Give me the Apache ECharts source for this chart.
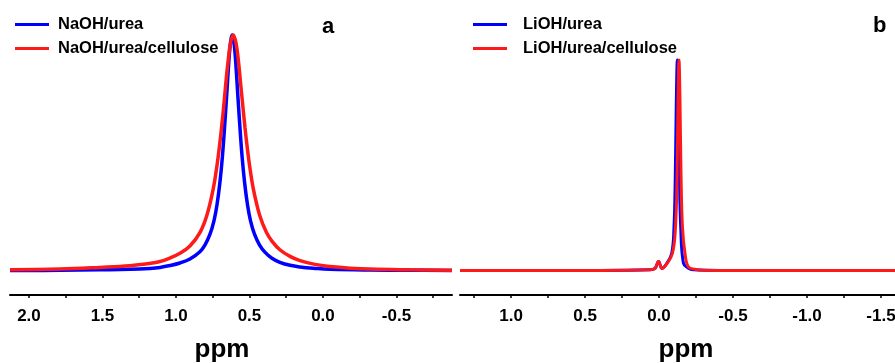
<!DOCTYPE html>
<html>
<head>
<meta charset="utf-8">
<script src="https://cdn.jsdelivr.net/npm/echarts@6/dist/echarts.min.js"></script>
<style>
  html, body { margin: 0; padding: 0; background: #fff; }
  #chart { width: 895px; height: 363px; }
</style>
</head>
<body>
<div id="chart"></div>
<script>
// panel a: NaOH/urea (ppm, relative intensity)
const naohPpm = [2.129, 1.789, 1.517, 1.313, 1.177, 1.109, 1.041, 0.973, 0.905, 0.837,
  0.803, 0.769, 0.741, 0.721, 0.701, 0.684, 0.667, 0.653, 0.643, 0.633,
  0.624, 0.617, 0.610, 0.601, 0.591, 0.581, 0.567, 0.550, 0.533, 0.513,
  0.493, 0.465, 0.431, 0.395, 0.347, 0.293, 0.224, 0.156, 0.054, -0.048,
  -0.320, -0.592, -0.878]
const naohInt = [0, 0.1, 0.3, 0.5, 0.9, 1.3, 2.1, 3.2, 4.9, 8.0,
  10.8, 15.3, 21.2, 27.8, 37.4, 48.4, 62.9, 76.3, 86.2, 94.5,
  98.7, 100, 98.7, 94.5, 86.2, 76.3, 62.9, 48.4, 37.4, 27.8,
  21.2, 15.3, 10.8, 7.8, 5.2, 3.5, 2.2, 1.5, 0.9, 0.5,
  0.2, 0.1, 0]

const naohCellPpm = [2.129, 1.789, 1.517, 1.313, 1.177, 1.109, 1.041, 0.973, 0.905, 0.837,
  0.789, 0.746, 0.721, 0.704, 0.690, 0.673, 0.660, 0.646, 0.629, 0.610,
  0.591, 0.574, 0.561, 0.547, 0.530, 0.516, 0.499, 0.474, 0.431, 0.384,
  0.347, 0.293, 0.224, 0.156, 0.054, -0.048, -0.184, -0.320, -0.592, -0.878]
const naohCellInt = [0.3, 0.6, 1.3, 2.0, 3.0, 3.8, 5.3, 7.3, 10.4, 16.1,
  23.6, 34.8, 44.5, 52.8, 60.5, 71.1, 80, 88.4, 96.5, 100,
  96.5, 88.4, 80, 71.1, 60.5, 52.8, 44.5, 34.8, 23.6, 16.1,
  12.5, 8.8, 6.0, 4.2, 2.6, 1.7, 1.0, 0.6, 0.3, 0.1]

// panel b: LiOH/urea
const liohPpm = [1.345, 0.399, 0.061, 0.027, 0.003, -0.020, -0.052, -0.086, -0.101, -0.110, -0.117, -0.124,
  -0.131, -0.138, -0.147, -0.165, -0.196, -0.232, -0.412, -1.595]
const liohInt = [0, 0, 0.3, 1.0, 4.3, 1.0, 3.3, 8.2, 20, 45, 80, 100,
  80, 45, 20, 3.5, 1.2, 0.3, 0, 0]

const liohCellPpm = [1.345, 0.399, 0.061, 0.027, 0.003, -0.020, -0.054, -0.091, -0.111, -0.122, -0.128, -0.135,
  -0.142, -0.149, -0.159, -0.176, -0.198, -0.243, -0.300, -0.480, -1.595]
const liohCellInt = [0, 0, 0.3, 1.0, 4.3, 1.0, 3.3, 8.2, 20, 45, 80, 100,
  80, 45, 20, 8.0, 1.8, 0.6, 0.1, 0, 0]

const tickLabelsA = [2.0, 1.5, 1.0, 0.5, 0.0, -0.5]
const tickLabelsB = [1.0, 0.5, 0.0, -0.5, -1.0, -1.5]
const ticksA = [2.0, 1.75, 1.5, 1.25, 1.0, 0.75, 0.5, 0.25, 0.0, -0.25, -0.5, -0.75]
const ticksB = [1.25, 1.0, 0.75, 0.5, 0.25, 0.0, -0.25, -0.5, -0.75, -1.0, -1.25, -1.5]

const BLUE = '#0000ff'
const RED = '#ff1a1a'
const SANS = 'Liberation Sans, Arial, sans-serif'

const pairs = (xs, ys) => xs.map((x, i) => [x, ys[i]])

const xAxisStyle = (min, max, labels, ticks, namePad) => ({
  type: 'value',
  inverse: true,
  min: min,
  max: max,
  name: 'ppm',
  nameLocation: 'middle',
  nameGap: 42,
  nameTextStyle: { fontFamily: SANS, fontWeight: 'bold', fontSize: 26, color: '#000', padding: namePad },
  axisLine: { onZero: false, lineStyle: { color: '#000', width: 2 } },
  axisTick: { show: true, length: 3, customValues: ticks, lineStyle: { color: '#000', width: 1.5 } },
  axisLabel: {
    customValues: labels,
    margin: 13,
    fontFamily: SANS,
    fontWeight: 'bold',
    fontSize: 17,
    color: '#000',
    formatter: (v) => Number(v).toFixed(1)
  },
  splitLine: { show: false }
})

const lineSeries = (name, idx, data, color, width) => ({
  name: name,
  type: 'line',
  xAxisIndex: idx,
  yAxisIndex: idx,
  data: data,
  showSymbol: false,
  smooth: 0.4,
  lineStyle: { color: color, width: width },
  itemStyle: { color: color }
})

const legendStyle = (left, names, pad) => ({
  left: left,
  top: 11,
  orient: 'vertical',
  icon: 'rect',
  itemWidth: 34,
  itemHeight: 3,
  itemGap: 7,
  data: names,
  textStyle: { fontFamily: SANS, fontWeight: 'bold', fontSize: 16.5, color: '#000', padding: [0, 0, 0, pad] }
})

const chart = echarts.init(document.getElementById('chart'))
chart.setOption({
  animation: false,
  backgroundColor: '#fff',
  legend: [
    legendStyle(10, ['NaOH/urea', 'NaOH/urea/cellulose'], 4),
    legendStyle(468, ['LiOH/urea', 'LiOH/urea/cellulose'], 11)
  ],
  graphic: [
    { type: 'text', left: 322, top: 16, style: { text: 'a', font: 'bold 22px ' + SANS, fill: '#000' } },
    { type: 'text', left: 873, top: 15, style: { text: 'b', font: 'bold 22px ' + SANS, fill: '#000' } }
  ],
  grid: [
    { left: 10, width: 442, top: 23, bottom: 68, outerBoundsMode: 'none' },
    { left: 460, width: 435, top: 23, bottom: 68, outerBoundsMode: 'none' }
  ],
  xAxis: [
    Object.assign(xAxisStyle(-0.878, 2.129, tickLabelsA, ticksA, [0, 18, 0, 0]), { gridIndex: 0 }),
    Object.assign(xAxisStyle(-1.595, 1.345, tickLabelsB, ticksB, [0, 0, 0, 17]), { gridIndex: 1 })
  ],
  yAxis: [
    { type: 'value', gridIndex: 0, min: -10.4, max: 105.1, show: false },
    { type: 'value', gridIndex: 1, min: -11.64, max: 117.6, show: false }
  ],
  series: [
    lineSeries('NaOH/urea', 0, pairs(naohPpm, naohInt), BLUE, 3.5),
    lineSeries('NaOH/urea/cellulose', 0, pairs(naohCellPpm, naohCellInt), RED, 3.5),
    lineSeries('LiOH/urea', 1, pairs(liohPpm, liohInt), BLUE, 3),
    lineSeries('LiOH/urea/cellulose', 1, pairs(liohCellPpm, liohCellInt), RED, 3)
  ]
})
</script>
</body>
</html>
